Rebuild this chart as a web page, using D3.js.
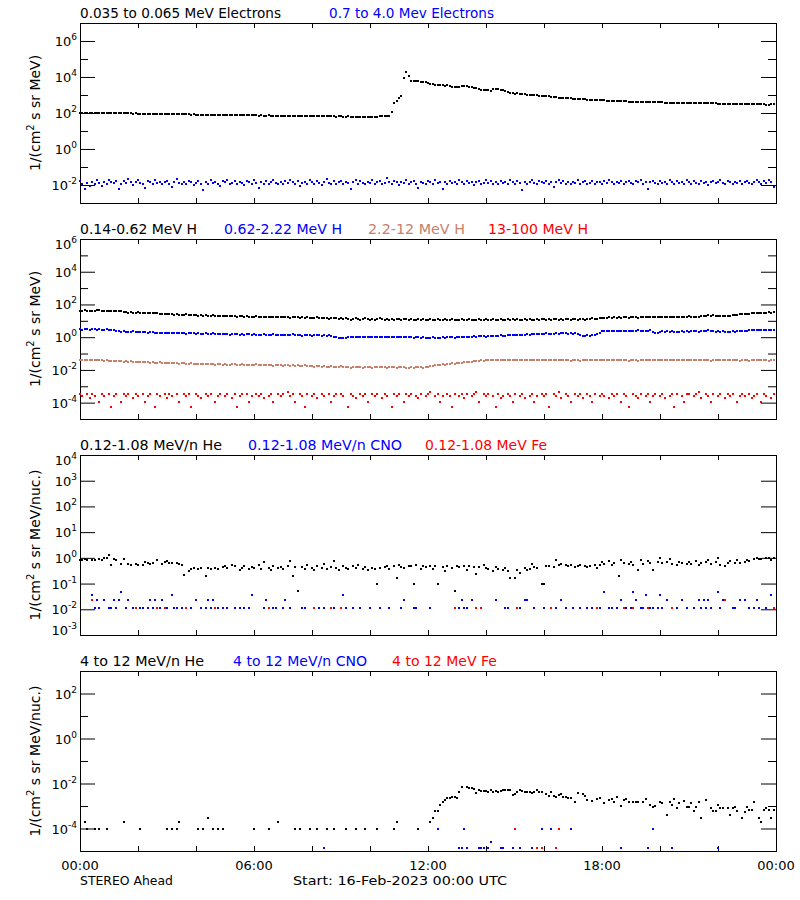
<!DOCTYPE html>
<html><head><meta charset="utf-8">
<script src="https://cdn.jsdelivr.net/npm/d3@7"></script>
<style>body{margin:0;background:#fff}svg text{font-family:"DejaVu Sans",sans-serif;}</style>
</head><body><svg id="c" width="800" height="900"></svg>
<script>
// ---------- DATA (5-minute bins starting 16-Feb-2023 00:00 UTC, one row = one hour) ----------
const startTime = "2023-02-16T00:00:00Z";
const endTime = "2023-02-17T00:00:00Z";
const xTickLabels = ["00:00","06:00","12:00","18:00","00:00"];

// Panel 1: electrons
const elecLow = [
96,98,97,100,99,101,104,103,102,105,104,103,
101,100,98,99,97,96,95,96,94,95,93,94,
92,93,91,92,90,91,90,89,90,88,89,87,
88,86,87,85,86,85,84,85,83,84,82,83,
81,82,80,81,80,79,80,78,79,77,78,77,
78,76,77,75,76,77,75,74,75,73,74,75,
73,74,72,73,71,72,73,71,72,70,71,72,
70,69,70,68,69,70,68,69,67,68,66,67,
68,66,65,66,67,65,66,64,65,66,63,64,
65,62,63,64,61,62,60,61,59,60,58,59,
57,58,60,62,64,66,65,67,70,117,345,480,
700,920,9100,19500,11700,6200,5900,6000,5800,5600,5400,5000,
4600,4300,4100,3800,3600,3500,3400,3300,3400,3200,2900,2800,
2700,2800,3000,3200,3100,2900,2700,2500,2400,2200,2000,1900,
1850,1800,1750,2100,2250,2150,1950,1800,1650,1400,1300,1250,
1200,1230,1180,1120,1100,1060,1040,1000,980,960,930,910,
890,860,840,810,780,750,720,700,680,660,650,640,
630,620,610,600,590,570,560,550,540,530,520,510,
505,500,490,480,470,465,460,455,450,445,440,430,
425,420,415,410,408,405,400,398,395,392,390,388,
390,385,380,378,375,372,370,368,365,362,360,358,
360,355,352,350,348,345,350,346,342,340,345,338,
335,332,330,335,328,325,322,320,318,322,315,312,
310,315,308,305,305,300,298,302,295,290,300,305];

const elecHigh = [
.016,.011,.006,.013,.009,.014,.012,.018,.013,.009,.015,.011,
.020,.014,.013,.017,.006,.012,.016,.013,.022,.014,.010,.015,
.018,.013,.012,.007,.016,.014,.012,.019,.013,.015,.011,.014,
.017,.012,.008,.014,.021,.013,.011,.015,.012,.017,.014,.010,
.013,.016,.012,.005,.014,.011,.018,.013,.015,.012,.009,.016,
.014,.020,.012,.013,.017,.011,.015,.013,.010,.016,.014,.012,
.018,.013,.007,.015,.012,.016,.011,.014,.019,.013,.012,.015,
.011,.016,.013,.020,.014,.012,.017,.009,.013,.015,.012,.018,
.014,.011,.016,.013,.010,.015,.022,.013,.012,.016,.011,.014,
.017,.012,.015,.013,.006,.014,.018,.012,.016,.013,.011,.015,
.013,.019,.012,.014,.016,.011,.013,.024,.015,.012,.017,.014,
.010,.015,.013,.018,.012,.014,.016,.011,.007,.015,.013,.012,
.016,.014,.011,.019,.013,.015,.006,.014,.012,.017,.013,.015,
.012,.018,.014,.011,.016,.013,.015,.010,.014,.017,.012,.013,
.019,.013,.016,.012,.014,.011,.017,.013,.015,.012,.020,.014,
.011,.016,.013,.005,.015,.012,.014,.018,.013,.011,.016,.014,
.013,.017,.012,.015,.008,.014,.019,.013,.016,.012,.014,.011,
.015,.013,.018,.012,.014,.016,.011,.013,.017,.012,.015,.014,
.012,.016,.013,.019,.014,.011,.015,.013,.017,.012,.014,.016,
.013,.011,.016,.014,.018,.012,.015,.006,.014,.016,.013,.012,
.017,.013,.015,.012,.019,.014,.011,.016,.013,.015,.012,.018,
.014,.012,.016,.013,.011,.017,.013,.015,.010,.014,.016,.013,
.015,.019,.013,.012,.016,.014,.011,.015,.013,.017,.012,.014,
.016,.013,.011,.015,.018,.014,.012,.016,.013,.019,.015,.008];

// Panel 2: protons
const protonA = [
42,41,43,42,40,42,41,43,44,42,41,40,
42,41,40,39,40,38,34,33,32,33,31,32,
33,31,30,31,32,30,29,30,29,28,27,26,
27,25,26,24,25,24,23,24,25,23,22,23,
22,21,22,21,22,20,21,22,20,21,20,19,
20,21,19,20,19,18,19,20,18,19,18,17,
18,19,17,18,17,18,17,16,17,18,16,17,
16,17,16,15,16,17,16,15,16,15,16,15,
14,15,16,15,14,15,14,13,14,15,14,13,
14,13,14,13,12,13,14,13,12,13,14,13,
12,13,12,13,14,13,12,13,12,13,12,13,
13,12,13,13,12,13,12,12,13,12,13,12,
12,13,12,12,13,12,12,13,12,12,13,12,
12,12,13,12,12,13,12,12,12,13,12,12,
13,12,12,13,12,12,13,12,12,13,12,13,
12,13,12,12,13,12,13,12,12,13,12,13,
13,12,13,12,13,13,12,13,12,13,13,12,
13,13,12,13,13,12,13,13,14,13,13,14,
15,14,15,16,15,16,15,16,15,16,16,15,
16,17,16,15,16,17,16,17,16,17,16,17,
17,16,17,18,17,16,17,18,17,18,17,18,
19,18,17,18,17,20,21,20,22,21,22,21,
20,19,20,19,20,21,22,23,24,26,27,26,
28,27,29,30,29,31,30,32,31,33,32,34];

const protonB = [
3.0,2.9,3.1,3.0,2.9,3.0,3.1,2.9,3.0,2.8,2.9,3.0,
2.8,2.7,2.6,2.5,2.3,2.2,2.3,2.2,2.1,2.2,2.3,2.1,
2.0,2.1,2.2,2.0,1.9,2.0,2.1,1.9,1.9,1.8,1.8,1.9,
1.8,1.7,1.8,1.9,1.7,1.8,1.7,1.8,1.6,1.7,1.8,1.7,
1.6,1.7,1.6,1.6,1.7,1.5,1.6,1.7,1.6,1.5,1.6,1.5,
1.6,1.5,1.4,1.5,1.6,1.5,1.4,1.5,1.4,1.5,1.6,1.4,
1.5,1.4,1.3,1.4,1.5,1.4,1.3,1.4,1.5,1.4,1.3,1.4,
1.3,1.4,1.3,1.4,1.5,1.3,1.4,1.3,1.2,1.3,1.4,1.3,
1.2,1.3,1.4,1.3,1.2,1.3,1.2,1.3,1.2,1.1,1.0,0.95,
0.9,0.92,0.95,1.0,1.05,1.1,1.05,1.0,1.05,1.1,1.05,1.0,
1.05,1.1,1.0,1.05,1.1,1.0,1.05,1.0,1.1,1.05,1.1,1.0,
1.05,1.1,1.0,1.05,1.1,1.0,0.95,1.0,1.05,0.95,1.0,0.95,
0.9,0.95,1.0,0.95,0.9,0.95,1.0,0.95,1.0,1.05,1.0,0.95,
1.0,1.05,1.0,1.05,1.1,1.05,1.1,1.15,1.1,1.15,1.2,1.15,
1.1,1.15,1.2,1.25,1.2,1.25,1.3,1.25,1.2,1.3,1.35,1.3,
1.4,1.35,1.4,1.45,1.4,1.5,1.45,1.5,1.55,1.5,1.6,1.55,
1.6,1.7,1.6,1.5,1.6,1.7,1.6,1.7,1.8,1.7,1.6,1.7,
1.6,1.7,1.5,1.3,1.2,1.2,1.3,1.25,1.3,1.4,1.6,1.9,
2.3,2.4,2.5,2.4,2.5,2.4,2.3,2.4,2.5,2.4,2.5,2.4,
2.3,2.4,2.5,2.6,2.5,2.4,2.3,2.5,2.6,2.1,1.8,1.9,
2.1,2.3,2.2,2.3,2.2,2.3,2.2,2.1,2.2,2.3,2.2,2.3,
2.2,2.3,2.4,2.3,2.2,2.3,2.4,2.5,2.7,2.4,2.3,2.2,
2.3,2.2,2.3,2.2,2.1,2.2,2.3,2.2,2.3,2.4,2.5,2.4,
2.5,2.6,2.7,2.8,2.7,2.8,2.9,2.8,2.7,2.8,2.9,2.8];

const protonC = [
.042,.040,.043,.041,.039,.042,.040,.038,.041,.039,.037,.038,
.036,.035,.034,.036,.033,.034,.032,.033,.031,.033,.032,.030,
.031,.029,.030,.031,.029,.028,.029,.027,.028,.030,.027,.026,
.028,.026,.025,.027,.025,.024,.026,.025,.024,.023,.025,.024,
.023,.022,.024,.023,.022,.024,.023,.022,.021,.023,.022,.021,
.022,.020,.021,.023,.022,.021,.020,.022,.021,.020,.021,.019,
.020,.022,.021,.020,.019,.021,.020,.019,.018,.020,.019,.020,
.018,.019,.020,.018,.019,.017,.019,.018,.018,.019,.017,.018,
.017,.016,.018,.017,.016,.017,.015,.016,.017,.016,.015,.016,
.017,.015,.016,.015,.014,.016,.015,.016,.015,.014,.015,.016,
.015,.014,.015,.016,.015,.016,.015,.014,.015,.016,.015,.014,
.015,.016,.015,.014,.013,.015,.014,.015,.016,.015,.014,.015,
.016,.017,.018,.019,.020,.021,.022,.021,.023,.024,.025,.024,
.026,.028,.027,.030,.029,.032,.031,.034,.036,.035,.038,.037,
.039,.040,.038,.039,.041,.040,.039,.038,.040,.041,.042,.041,
.040,.039,.040,.041,.042,.043,.041,.040,.039,.040,.041,.040,
.039,.040,.038,.039,.040,.039,.038,.039,.040,.039,.038,.037,
.038,.039,.038,.037,.038,.039,.040,.041,.040,.042,.041,.043,
.042,.041,.040,.039,.040,.039,.038,.039,.040,.039,.038,.037,
.038,.039,.038,.037,.038,.039,.038,.039,.040,.039,.038,.039,
.040,.041,.040,.039,.040,.039,.038,.039,.040,.039,.038,.039,
.040,.041,.040,.039,.040,.039,.038,.039,.038,.037,.038,.039,
.038,.039,.040,.039,.038,.039,.040,.039,.038,.037,.038,.039,
.038,.037,.038,.039,.040,.039,.038,.039,.038,.037,.038,.039];

const protonD = [
3.4e-4,2.5e-4,null,3.4e-4,1.8e-4,3.4e-4,2.5e-4,null,1.1e-4,3.4e-4,2.5e-4,null,
3.4e-4,5.6e-5,2.5e-4,3.4e-4,null,1.1e-4,3.4e-4,2.5e-4,3.4e-4,null,1.8e-4,3.4e-4,
2.5e-4,null,3.4e-4,1.1e-4,2.5e-4,3.4e-4,null,5.6e-5,3.4e-4,2.5e-4,null,3.4e-4,
1.8e-4,3.4e-4,2.5e-4,null,3.4e-4,1.1e-4,null,3.4e-4,2.5e-4,3.4e-4,5.6e-5,null,
3.4e-4,2.5e-4,1.8e-4,null,3.4e-4,2.5e-4,3.4e-4,null,1.1e-4,2.5e-4,3.4e-4,null,
2.5e-4,3.4e-4,null,1.8e-4,3.4e-4,5.6e-5,2.5e-4,3.4e-4,null,3.4e-4,1.1e-4,2.5e-4,
null,3.4e-4,2.5e-4,3.4e-4,1.8e-4,null,2.5e-4,3.4e-4,1.1e-4,null,3.4e-4,2.5e-4,
3.4e-4,null,4.5e-4,2.5e-4,3.4e-4,1.1e-4,null,3.4e-4,2.5e-4,5.6e-5,3.4e-4,null,
2.5e-4,3.4e-4,1.8e-4,null,3.4e-4,2.5e-4,null,3.4e-4,1.1e-4,2.5e-4,3.4e-4,null,
3.4e-4,2.5e-4,null,5.6e-5,3.4e-4,2.5e-4,1.8e-4,null,3.4e-4,2.5e-4,3.4e-4,1.1e-4,
null,3.4e-4,2.5e-4,3.4e-4,null,1.8e-4,3.4e-4,2.5e-4,null,5.6e-5,3.4e-4,2.5e-4,
3.4e-4,null,1.1e-4,3.4e-4,2.5e-4,3.4e-4,null,2.5e-4,1.8e-4,3.4e-4,null,2.5e-4,
3.4e-4,4.5e-4,null,2.5e-4,3.4e-4,1.1e-4,2.5e-4,null,3.4e-4,2.5e-4,5.6e-5,3.4e-4,
null,2.5e-4,3.4e-4,1.8e-4,3.4e-4,null,2.5e-4,3.4e-4,4.5e-4,1.1e-4,null,3.4e-4,
2.5e-4,3.4e-4,null,2.5e-4,5.6e-5,3.4e-4,1.8e-4,2.5e-4,null,3.4e-4,2.5e-4,1.1e-4,
3.4e-4,null,2.5e-4,3.4e-4,1.8e-4,null,2.5e-4,3.4e-4,1.1e-4,2.5e-4,null,3.4e-4,
2.5e-4,3.4e-4,5.6e-5,null,3.4e-4,2.5e-4,4.5e-4,1.8e-4,null,3.4e-4,2.5e-4,1.1e-4,
null,3.4e-4,2.5e-4,3.4e-4,1.8e-4,null,3.4e-4,2.5e-4,1.1e-4,3.4e-4,null,2.5e-4,
3.4e-4,2.5e-4,null,1.8e-4,3.4e-4,2.5e-4,3.4e-4,null,1.1e-4,3.4e-4,2.5e-4,5.6e-5,
null,3.4e-4,2.5e-4,1.8e-4,3.4e-4,null,2.5e-4,3.4e-4,1.1e-4,2.5e-4,3.4e-4,null,
2.5e-4,3.4e-4,1.8e-4,null,2.5e-4,3.4e-4,5.6e-5,3.4e-4,null,2.5e-4,1.1e-4,3.4e-4,
3.4e-4,null,2.5e-4,3.4e-4,4.5e-4,1.8e-4,null,3.4e-4,2.5e-4,1.1e-4,3.4e-4,null,
2.5e-4,3.4e-4,null,1.8e-4,3.4e-4,2.5e-4,3.4e-4,null,1.1e-4,2.5e-4,3.4e-4,2.5e-4,
null,3.4e-4,1.8e-4,2.5e-4,3.4e-4,null,1.1e-4,3.4e-4,2.5e-4,null,1.8e-4,3.4e-4];

// Panel 3: 0.12-1.08 MeV/n heavy ions
const heLow = [
0.85,0.83,0.9,0.82,null,0.86,0.8,null,0.92,0.84,0.95,0.97,
1.25,0.55,0.9,0.85,null,0.6,0.88,null,0.56,0.55,null,0.58,
0.53,null,0.54,0.7,0.62,0.6,0.65,null,0.83,null,0.58,0.7,
0.75,0.62,0.65,null,0.63,0.6,0.52,0.22,null,0.32,0.37,0.4,
null,0.38,0.4,null,0.2,0.4,0.38,null,0.42,0.36,null,0.45,
0.5,0.4,null,0.55,0.47,null,0.35,0.42,0.5,null,0.38,0.45,
0.4,null,0.52,0.36,0.7,null,0.42,0.34,0.48,null,0.4,0.45,
0.38,null,0.5,0.75,0.19,0.44,0.053,null,0.46,0.38,0.55,null,
0.42,0.35,0.48,null,0.4,0.6,0.37,null,0.45,0.75,0.4,0.34,
null,0.5,0.42,0.36,null,0.47,0.4,0.52,null,0.38,0.44,0.35,
null,0.41,0.36,0.1,0.4,null,0.45,0.5,0.38,null,0.48,0.17,
0.52,0.45,0.4,null,0.5,0.48,0.093,0.52,null,0.38,0.5,0.45,
null,0.47,0.36,0.5,0.093,null,0.45,0.3,0.48,null,0.42,0.052,
0.5,0.45,null,0.48,0.33,0.5,null,0.46,0.23,0.44,null,0.55,
0.4,0.38,null,0.3,0.45,0.36,null,0.34,0.42,0.3,0.17,null,
0.17,0.33,0.25,null,0.4,0.35,0.37,0.6,0.45,0.4,null,0.093,
0.093,0.5,0.48,null,0.45,0.83,0.55,0.6,null,0.55,0.5,0.52,
null,0.45,0.5,0.55,null,0.48,0.46,0.5,null,0.52,0.42,0.55,
0.7,0.6,null,0.75,0.55,0.65,null,0.2,0.8,0.62,null,0.6,
0.7,0.55,null,0.34,0.85,0.6,null,0.75,0.62,0.34,null,0.7,
0.95,0.62,null,0.68,0.9,0.6,null,0.55,0.7,0.62,null,0.58,
0.68,0.6,null,0.75,0.55,0.62,null,0.7,0.85,0.6,null,0.72,
0.95,0.55,null,0.48,0.62,0.75,null,0.65,0.8,0.62,null,0.72,
0.85,0.75,null,0.9,0.95,0.88,0.92,null,0.95,0.98,0.85,1.0];

// sparse series: [5-minute bin, value]
const cnoLow = [
[5,.036],[6,.011],[7,.024],[8,.011],[10,.024],[12,.011],[13,.011],[14,.024],[15,.011],[16,.024],[17,.047],[19,.011],
[20,.024],[22,.011],[25,.011],[26,.011],[28,.011],[29,.024],[30,.011],[31,.024],[32,.011],[33,.011],[34,.024],[36,.011],
[38,.036],[39,.011],[40,.011],[42,.011],[44,.011],[46,.011],[48,.024],[50,.011],[52,.011],[53,.024],[54,.011],[55,.024],
[57,.011],[59,.011],[61,.011],[64,.011],[66,.011],[68,.011],[70,.011],[71,.036],[76,.011],[77,.024],[80,.011],[81,.011],
[84,.011],[85,.024],[87,.011],[92,.011],[93,.011],[97,.011],[99,.011],[101,.011],[105,.011],[109,.036],[110,.011],[113,.011],
[116,.011],[120,.011],[124,.011],[128,.011],[133,.011],[134,.024],[138,.011],[139,.011],[145,.011],[155,.011],[157,.011],[158,.024],
[159,.011],[160,.011],[162,.024],[172,.024],[176,.011],[177,.011],[182,.011],[184,.024],[185,.024],[188,.011],[192,.011],[197,.011],
[199,.024],[201,.011],[204,.011],[207,.011],[210,.011],[212,.011],[215,.011],[217,.047],[219,.011],[220,.011],[222,.011],[224,.024],
[226,.011],[228,.011],[229,.047],[230,.024],[232,.011],[233,.011],[234,.036],[236,.011],[237,.011],[239,.011],[240,.036],[241,.011],
[243,.024],[247,.011],[249,.024],[251,.011],[254,.011],[256,.024],[257,.011],[258,.024],[259,.011],[260,.024],[261,.011],[264,.047],
[265,.011],[266,.024],[270,.011],[271,.011],[273,.024],[275,.024],[277,.011],[279,.011],[280,.024],[281,.011],[284,.011],[286,.036]];
const feLow = [
[5,.024],[23,.011],[32,.011],[35,.011],[44,.011],[56,.011],[78,.011],[97,.011],[104,.011],[108,.011],[155,.011],
[164,.011],[166,.011],[181,.011],[195,.011],[214,.011],[225,.011],[229,.011],[235,.011],[245,.011],[267,.024],[287,.011]];

// Panel 4: 4-12 MeV/n heavy ions
const heHigh = [
null,null,2e-4,1e-4,null,null,1e-4,null,1e-4,null,null,1e-4,
null,null,null,null,null,null,2e-4,null,null,null,null,null,
null,1e-4,null,null,null,null,null,null,null,null,null,null,
1e-4,null,1e-4,null,1e-4,2e-4,null,null,null,null,null,null,
null,1e-4,null,1e-4,null,3e-4,null,1e-4,null,1e-4,null,1e-4,
null,null,null,null,null,null,null,null,null,null,null,null,
1e-4,null,null,null,null,null,1e-4,null,null,null,2e-4,null,
null,null,null,null,null,1e-4,null,1e-4,null,null,null,1e-4,
null,null,1e-4,null,null,null,1e-4,null,null,1e-4,null,null,
null,null,1e-4,null,null,null,1e-4,null,null,null,1e-4,null,
null,null,null,1e-4,null,null,null,null,null,null,1e-4,2e-4,
null,null,null,null,null,null,null,null,1e-4,null,null,null,
null,2e-4,3e-4,6e-4,6e-4,1.1e-3,1.5e-3,1.85e-3,2.2e-3,2.3e-3,2.6e-3,2.4e-3,
2.2e-3,4.4e-3,7.2e-3,null,7.0e-3,6.5e-3,6.2e-3,5.9e-3,3.9e-3,5.0e-3,4.7e-3,4.7e-3,
4.7e-3,4.4e-3,4.9e-3,4.4e-3,4.6e-3,4.4e-3,4.8e-3,5.2e-3,5.0e-3,5.0e-3,5.0e-3,3.1e-3,
3.3e-3,4.4e-3,5.0e-3,4.7e-3,4.4e-3,4.1e-3,4.4e-3,3.9e-3,4.4e-3,5.0e-3,4.4e-3,4.1e-3,
null,3.3e-3,2.9e-3,4.4e-3,2.9e-3,2.6e-3,3.1e-3,3.3e-3,2.6e-3,2.6e-3,2.2e-3,2.3e-3,
null,1.5e-3,3.6e-3,null,3.3e-3,2.9e-3,1.85e-3,null,1.7e-3,null,2.0e-3,2.2e-3,
null,1.3e-3,null,1.85e-3,2.0e-3,1.56e-3,2.6e-3,null,1.0e-3,1.85e-3,2.0e-3,1.56e-3,
null,1.56e-3,1.56e-3,1.5e-3,null,1.56e-3,2.0e-3,null,1.1e-3,9.3e-4,1.0e-3,null,
1.5e-3,1.3e-3,null,4e-4,1.56e-3,1.1e-3,2.0e-3,7.9e-4,1.3e-3,null,1.7e-3,9.3e-4,
9.3e-4,1.3e-3,6.2e-4,9.3e-4,1.56e-3,3e-4,null,1.85e-3,null,8.5e-4,6e-4,5.8e-4,
1.1e-3,7.9e-4,7.9e-4,null,8.5e-4,4e-4,7.9e-4,9.3e-4,6.3e-4,null,3e-4,5.2e-4,
9.3e-4,6.6e-4,6.6e-4,1.5e-3,null,3e-4,2e-4,6.6e-4,7.9e-4,6.6e-4,3e-4,6.6e-4];
const cnoHigh = [
[101,1.3e-5],[148,1e-4],[157,1.3e-5],[158,1.3e-5],[159,1e-4],[160,1.3e-5],[165,1.3e-5],[166,1.3e-5],[167,1.3e-5],
[169,1.3e-5],[170,2.6e-5],[174,1.3e-5],[175,1.3e-5],[179,1.3e-5],[182,1.3e-5],[187,1.3e-5],[191,1e-4],[195,1e-4],
[203,1e-4],[224,1.3e-5],[235,1.3e-5],[237,1e-4],[245,1.3e-5],[264,1.3e-5]];
const feHigh = [[180,1e-4],[189,1.3e-5],[191,1.3e-5],[197,1.3e-5],[198,1e-4]];

// ---------- STYLE / LAYOUT ----------
const BLUE = "#0000ff", RED = "#ff0000", BROWN = "#c8806a", BLACK = "#000000";
const X0 = 80, X1 = 776, PH = 180;

// titles: [text, colour, x start, width]
const panels = [
  {top: 23, domain: [1e-3, 1e7], every: 2, unit: " s sr MeV)",
   titles: [["0.035 to 0.065 MeV Electrons", BLACK, 80, 201], ["0.7 to 4.0 Mev Electrons", BLUE, 329, 165]],
   dense: [[elecLow, BLACK], [elecHigh, BLUE]], sparse: []},
  {top: 239, domain: [1e-5, 1e6], every: 2, unit: " s sr MeV)",
   titles: [["0.14-0.62 MeV H", BLACK, 80, 117], ["0.62-2.22 MeV H", BLUE, 224, 118], ["2.2-12 MeV H", BROWN, 368, 97], ["13-100 MeV H", RED, 488, 100]],
   dense: [[protonA, BLACK], [protonB, BLUE], [protonC, BROWN], [protonD, RED]], sparse: []},
  {top: 455, domain: [1e-3, 1e4], every: 1, unit: " s sr MeV/nuc.)",
   titles: [["0.12-1.08 MeV/n He", BLACK, 80, 142], ["0.12-1.08 MeV/n CNO", BLUE, 248, 154], ["0.12-1.08 MeV Fe", RED, 425, 122]],
   dense: [[heLow, BLACK]], sparse: [[cnoLow, BLUE], [feLow, RED]]},
  {top: 671, domain: [1e-5, 1e3], every: 2, unit: " s sr MeV/nuc.)",
   titles: [["4 to 12 MeV/n He", BLACK, 80, 124], ["4 to 12 MeV/n CNO", BLUE, 233, 134], ["4 to 12 MeV Fe", RED, 392, 105]],
   dense: [[heHigh, BLACK]], sparse: [[cnoHigh, BLUE], [feHigh, RED]]}
];

const svg = d3.select("#c");
const t0 = new Date(startTime), t1 = new Date(endTime);
const x = d3.scaleUtc().domain([t0, t1]).range([X0, X1]);
const binTime = i => new Date(t0.getTime() + i * 5 * 60000);
const xTicks = d3.utcHour.every(2).range(t0, new Date(t1.getTime() + 1));

panels.forEach((p, pi) => {
  const bottom = p.top + PH;
  const y = d3.scaleLog().domain(p.domain).range([bottom, p.top]);
  const g = svg.append("g");
  const lo = Math.round(Math.log10(p.domain[0])), hi = Math.round(Math.log10(p.domain[1]));
  const exps = d3.range(lo, hi + 1);
  const major = exps.filter(e => p.every === 1 || Math.abs(e) % 2 === 0);
  const minor = exps.filter(e => !major.includes(e));

  const addY = (vals, len) => {
    const tv = vals.map(e => Math.pow(10, e));
    g.append("g").attr("transform", `translate(${X0},0)`).call(d3.axisRight(y).tickValues(tv).tickSize(len).tickFormat(""));
    g.append("g").attr("transform", `translate(${X1},0)`).call(d3.axisLeft(y).tickValues(tv).tickSize(len).tickFormat(""));
  };
  addY(major, 15); addY(minor, 8);
  g.append("g").attr("transform", `translate(0,${bottom})`).call(d3.axisTop(x).tickValues(xTicks).tickSize(5).tickFormat(""));
  g.append("g").attr("transform", `translate(0,${p.top})`).call(d3.axisBottom(x).tickValues(xTicks).tickSize(5).tickFormat(""));
  g.selectAll(".domain").remove();
  g.selectAll(".tick line").attr("stroke", "#000").attr("stroke-width", 1);

  g.append("rect").attr("x", X0 + 0.5).attr("y", p.top + 0.5).attr("width", X1 - X0).attr("height", PH)
    .attr("fill", "none").attr("stroke", "#000").attr("stroke-width", 1);

  major.forEach(e => {
    const ty = y(Math.pow(10, e));
    let base = ty + 5;
    if (Math.abs(ty - p.top) < 1) base = ty + 10;
    if (Math.abs(ty - bottom) < 1) base = ty;
    const t = g.append("text").attr("x", 77).attr("y", base).attr("text-anchor", "end")
      .attr("font-size", 13).attr("fill", "#000");
    t.append("tspan").text("10");
    t.append("tspan").attr("dy", -6).attr("font-size", 9).text(String(e));
  });

  const cy = (p.top + bottom) / 2;
  const yt = g.append("text").attr("transform", `translate(40,${cy}) rotate(-90)`)
    .attr("text-anchor", "middle").attr("font-size", 14).attr("fill", "#000");
  yt.append("tspan").text("1/(cm");
  yt.append("tspan").attr("dy", -6).attr("font-size", 10).text("2");
  yt.append("tspan").attr("dy", 6).text(p.unit);

  p.titles.forEach(([txt, col, tx, tw]) => {
    g.append("text").attr("x", tx).attr("y", p.top - 5).attr("font-size", 13.5).attr("fill", col)
      .attr("textLength", tw).attr("lengthAdjust", "spacingAndGlyphs").text(txt);
  });

  const dg = g.append("g").attr("shape-rendering", "crispEdges");
  p.dense.forEach(([arr, col]) => {
    const pts = arr.map((v, i) => [i, v]).filter(d => d[1] != null);
    dg.append("g").selectAll("rect").data(pts).join("rect")
      .attr("x", d => Math.round(x(binTime(d[0]))) - 1).attr("y", d => Math.round(y(d[1])) - 1)
      .attr("width", 2).attr("height", 2).attr("fill", col);
  });
  p.sparse.forEach(([arr, col]) => {
    dg.append("g").selectAll("rect").data(arr).join("rect")
      .attr("x", d => Math.round(x(binTime(d[0]))) - 1).attr("y", d => Math.round(y(d[1])) - 1)
      .attr("width", 2).attr("height", 2).attr("fill", col);
  });

  if (pi === panels.length - 1) {
    const lt = d3.utcHour.every(6).range(t0, new Date(t1.getTime() + 1));
    lt.forEach((d, k) => {
      g.append("text").attr("x", x(d)).attr("y", 870).attr("text-anchor", "middle")
        .attr("font-size", 13).attr("fill", "#000").text(xTickLabels[k]);
    });
  }
});

svg.append("text").attr("x", 80).attr("y", 885).attr("font-size", 13).attr("fill", "#000")
  .attr("textLength", 93).attr("lengthAdjust", "spacingAndGlyphs").text("STEREO Ahead");
svg.append("text").attr("x", 293).attr("y", 885).attr("font-size", 13).attr("fill", "#000")
  .attr("textLength", 214).attr("lengthAdjust", "spacingAndGlyphs").text("Start: 16-Feb-2023 00:00 UTC");
</script></body></html>
